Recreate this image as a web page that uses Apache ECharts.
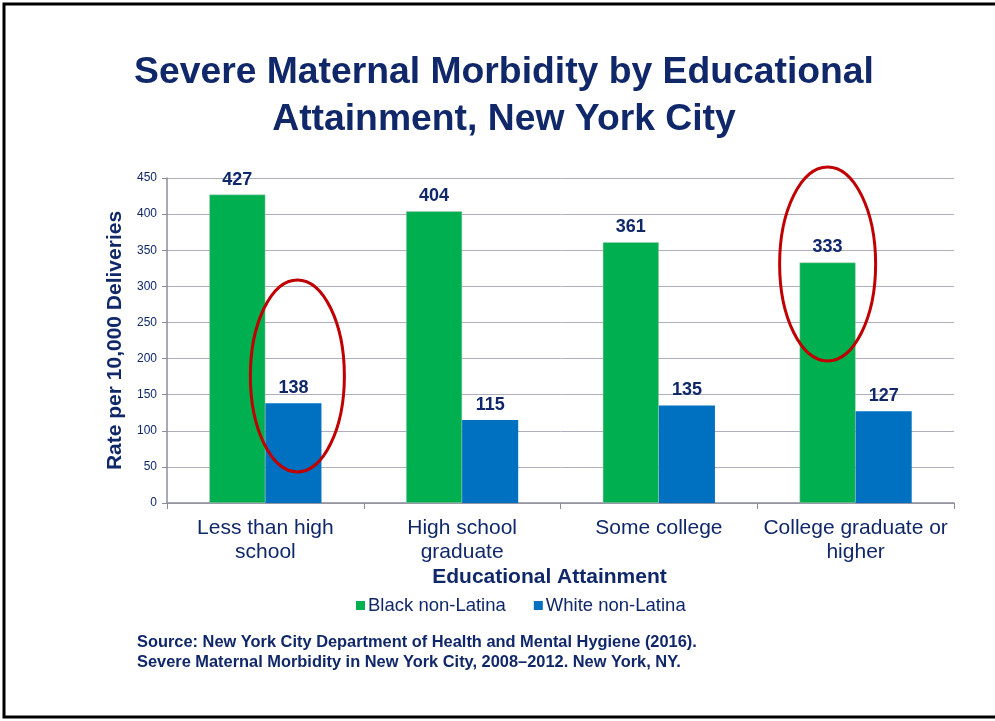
<!DOCTYPE html>
<html>
<head>
<meta charset="utf-8">
<script src="https://cdn.jsdelivr.net/npm/echarts@6/dist/echarts.min.js"></script>
<style>
  html, body { margin: 0; padding: 0; background: #fff; }
  #chart { width: 995px; height: 721px; }
</style>
</head>
<body>
<div id="chart"></div>
<script>
const categories = ['Less than high\nschool', 'High school\ngraduate', 'Some college', 'College graduate or\nhigher']
const blackNonLatina = [427, 404, 361, 333]
const whiteNonLatina = [138, 115, 135, 127]
const yTicks = { min: 0, max: 450, interval: 50 }

const navy = '#10286A'
const chart = echarts.init(document.getElementById('chart'))

chart.setOption({
  backgroundColor: '#fff',
  animation: false,
  title: {
    text: 'Severe Maternal Morbidity by Educational\nAttainment, New York City',
    left: 499, top: 44, textAlign: 'center',
    textStyle: { fontFamily: 'Liberation Sans', fontSize: 37.3, fontWeight: 'bold', color: navy, lineHeight: 47 }
  },
  legend: {
    data: ['Black non-Latina', 'White non-Latina'],
    left: 351, top: 591, itemGap: 28,
    itemWidth: 9, itemHeight: 9, icon: 'rect',
    itemStyle: { borderWidth: 0 },
    textStyle: { fontFamily: 'Liberation Sans', fontSize: 18.5, color: navy, padding: [0, 0, 0, -2] }
  },
  grid: { left: 167, right: 41, top: 178, bottom: 218 },
  xAxis: {
    type: 'category',
    data: categories,
    name: 'Educational Attainment',
    nameLocation: 'middle', nameGap: 64,
    nameTextStyle: { fontFamily: 'Liberation Sans', fontSize: 21, fontWeight: 'bold', color: navy, padding: [0, 22, 0, 0] },
    axisLine: { lineStyle: { color: '#8C8C9A', width: 1.5 } },
    axisTick: { show: true, length: 6, lineStyle: { color: '#8C8C9A' } },
    axisLabel: { fontFamily: 'Liberation Sans', fontSize: 21, color: navy, lineHeight: 24, margin: 13, interval: 0 }
  },
  yAxis: {
    type: 'value',
    min: yTicks.min, max: yTicks.max, interval: yTicks.interval,
    name: 'Rate per 10,000 Deliveries',
    nameLocation: 'middle', nameGap: 34,
    nameTextStyle: { fontFamily: 'Liberation Sans', fontSize: 21, fontWeight: 'bold', color: navy },
    axisLine: { show: true, lineStyle: { color: '#8C8C9A', width: 1.5 } },
    axisTick: { show: true, length: 5, lineStyle: { color: '#8C8C9A' } },
    axisLabel: { fontFamily: 'Liberation Sans', fontSize: 12, color: navy, margin: 10 },
    splitLine: { lineStyle: { color: '#AEAEBE', width: 1 } }
  },
  series: [
    {
      name: 'Black non-Latina', type: 'bar', data: blackNonLatina,
      barGap: '0%', barCategoryGap: '43%',
      itemStyle: { color: '#00AF50', borderColor: '#B8C8BE', borderWidth: 0.5 },
      label: { show: true, position: 'top', distance: 6, fontFamily: 'Liberation Sans', fontSize: 18, fontWeight: 'bold', color: navy }
    },
    {
      name: 'White non-Latina', type: 'bar', data: whiteNonLatina,
      itemStyle: { color: '#0070C0' },
      label: { show: true, position: 'top', distance: 6, fontFamily: 'Liberation Sans', fontSize: 18, fontWeight: 'bold', color: navy }
    }
  ]
})

// annotation ellipses, placed relative to the bars they highlight
const half = 28
const p1 = chart.convertToPixel({ gridIndex: 0 }, [0, 176])
const p2 = chart.convertToPixel({ gridIndex: 0 }, [3, 331])

chart.setOption({
  graphic: [
    { type: 'rect', shape: { x: 4, y: 4, width: 1010, height: 713 }, style: { fill: 'none', stroke: '#000', lineWidth: 3 }, z: 100 },
    { type: 'text', left: 137, top: 632, style: {
        text: 'Source: New York City Department of Health and Mental Hygiene (2016).\nSevere Maternal Morbidity in New York City, 2008\u20132012. New York, NY.',
        font: 'bold 16.4px "Liberation Sans"', fill: navy, lineHeight: 20 } },
    { type: 'ellipse', shape: { cx: p1[0] + half + 4, cy: p1[1], rx: 47, ry: 96 }, style: { fill: 'none', stroke: '#C00000', lineWidth: 3 }, z: 50 },
    { type: 'ellipse', shape: { cx: p2[0] - half, cy: p2[1], rx: 48, ry: 97 }, style: { fill: 'none', stroke: '#C00000', lineWidth: 3 }, z: 50 }
  ]
})
</script>
</body>
</html>
